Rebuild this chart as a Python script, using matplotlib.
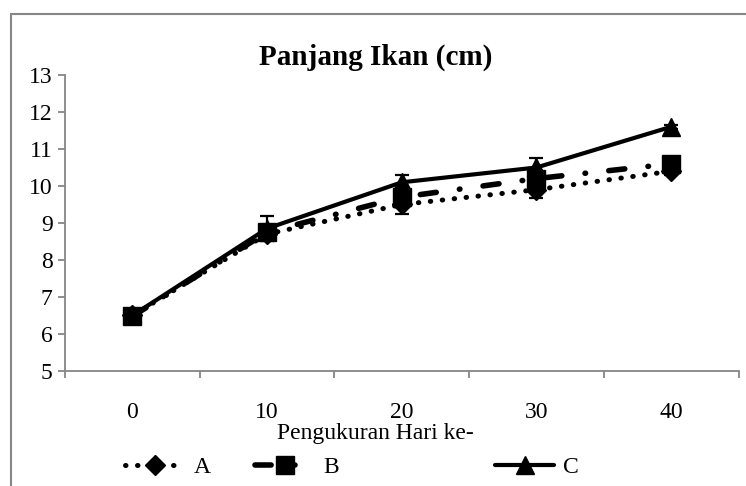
import matplotlib
matplotlib.use("Agg")
import matplotlib.pyplot as plt
from matplotlib.patches import Rectangle

# Fish length measurements (cm) by measurement day
days = ["0", "10", "20", "30", "40"]
series_names = ["A", "B", "C"]
len_a = [6.50, 8.70, 9.50, 9.90, 10.40]
len_b = [6.48, 8.75, 9.70, 10.20, 10.60]
len_c = [6.50, 8.85, 10.10, 10.50, 11.60]
err_a = [0.05, 0.10, 0.25, 0.22, 0.10]
err_b = [0.05, 0.10, 0.15, 0.15, 0.10]
err_c = [0.05, 0.33, 0.20, 0.25, 0.05]

plt.rcParams["font.family"] = ["Liberation Serif", "DejaVu Serif"]
AXIS_GRAY = "#868686"
FS = 17

fig = plt.figure(figsize=(7.46, 4.86), dpi=100)
ax = fig.add_axes([65 / 746, 1 - 371 / 486, (738.5 - 65) / 746, (371 - 75) / 486])

x = list(range(len(days)))
styles = [
    dict(ls=(0, (0.1, 2.3)), lw=3.6, marker="D", ms=10, dash_capstyle="round"),
    dict(ls=(0, (2.9, 4.2, 0.1, 4.2)), lw=4.0, marker="s", ms=13, dash_capstyle="round"),
    dict(ls="-", lw=3.0, marker="^", ms=13, dash_capstyle="round"),
]
handles = []
for vals, errs, st, name in zip([len_a, len_b, len_c], [err_a, err_b, err_c], styles, series_names):
    ax.errorbar(x, vals, yerr=errs, fmt="none", ecolor="black", elinewidth=1.6,
                capsize=5, capthick=1.6, zorder=2)
    (ln,) = ax.plot(x, vals, color="black", linestyle=st["ls"], linewidth=st["lw"],
                    dash_capstyle=st["dash_capstyle"], solid_capstyle="round",
                    marker=st["marker"], markersize=st["ms"], markerfacecolor="black",
                    markeredgecolor="black", label=name, zorder=3)
    handles.append(ln)

ax.set_xlim(-0.5, len(days) - 0.5)
ax.set_ylim(5, 13)
ax.set_yticks(range(5, 14))
ax.set_xticks(x)
ax.set_xticklabels(days)
ax.set_xticks([i - 0.5 for i in range(len(days) + 1)], minor=True)

for side in ["top", "right"]:
    ax.spines[side].set_visible(False)
for side in ["left", "bottom"]:
    ax.spines[side].set_color(AXIS_GRAY)
    ax.spines[side].set_linewidth(1.3)

ax.tick_params(axis="y", which="major", direction="out", length=5, width=1.3,
               color=AXIS_GRAY, labelsize=FS, pad=4)
ax.tick_params(axis="x", which="major", length=0, labelsize=FS, pad=22)
ax.tick_params(axis="x", which="minor", direction="out", length=5, width=1.3,
               color=AXIS_GRAY)

fig.text(0.503, 1 - 57 / 486, "Panjang Ikan (cm)", ha="center", va="center",
         fontsize=21, fontweight="bold")
fig.text(0.503, 1 - 433 / 486, "Pengukuran Hari ke-", ha="center", va="center",
         fontsize=FS)

# legend entries laid out across the bottom
leg_x = [125 / 746, 255 / 746, 495 / 746]
for h, lx in zip(handles, leg_x):
    lg = fig.legend(handles=[h], loc="center left", bbox_to_anchor=(lx, 1 - 467 / 486),
                    frameon=False, fontsize=FS, handlelength=2.5, handletextpad=0.4,
                    borderpad=0, borderaxespad=0, numpoints=1)

# chart frame
fig.add_artist(Rectangle((11 / 746, -0.2), 1.2, 1.2 + (1 - 14 / 486 - 1.0),
                         transform=fig.transFigure, fill=False,
                         edgecolor=AXIS_GRAY, linewidth=1.5))

fig.savefig("out.png", dpi=100)
